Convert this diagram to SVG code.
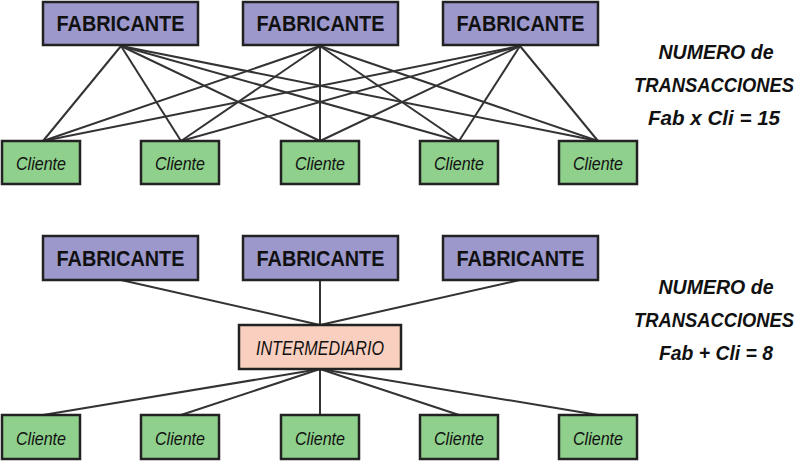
<svg xmlns="http://www.w3.org/2000/svg" width="800" height="461" viewBox="0 0 800 461">
<style>
.fab{fill:#9c98cc;stroke:#222;stroke-width:2.5}
.cli{fill:#8fd08c;stroke:#222;stroke-width:2.5}
.int{fill:#f9cfbf;stroke:#222;stroke-width:2.5}
.ft{font-family:"Liberation Sans",Arial,sans-serif;font-weight:bold;font-size:22px;fill:#111;text-anchor:middle}
.ct{font-family:"Liberation Sans",Arial,sans-serif;font-style:italic;font-size:19px;fill:#111;text-anchor:middle}
.nt{font-family:"Liberation Sans",Arial,sans-serif;font-style:italic;font-weight:bold;font-size:20px;fill:#111;text-anchor:middle}
#connectors line{stroke:#333;stroke-width:2}
</style>
<g id="connectors">
<line x1="121" y1="46" x2="43" y2="141"/><line x1="121" y1="46" x2="181" y2="141"/><line x1="121" y1="46" x2="320" y2="141"/><line x1="121" y1="46" x2="459" y2="141"/><line x1="121" y1="46" x2="598" y2="141"/>
<line x1="320" y1="46" x2="43" y2="141"/><line x1="320" y1="46" x2="181" y2="141"/><line x1="320" y1="46" x2="320" y2="141"/><line x1="320" y1="46" x2="459" y2="141"/><line x1="320" y1="46" x2="598" y2="141"/>
<line x1="520" y1="46" x2="43" y2="141"/><line x1="520" y1="46" x2="181" y2="141"/><line x1="520" y1="46" x2="320" y2="141"/><line x1="520" y1="46" x2="459" y2="141"/><line x1="520" y1="46" x2="598" y2="141"/>
<line x1="121" y1="280" x2="320" y2="325"/><line x1="320" y1="280" x2="320" y2="325"/><line x1="520" y1="280" x2="320" y2="325"/>
<line x1="320" y1="369" x2="43" y2="415"/><line x1="320" y1="369" x2="181" y2="415"/><line x1="320" y1="369" x2="320" y2="415"/><line x1="320" y1="369" x2="459" y2="415"/><line x1="320" y1="369" x2="598" y2="415"/>
</g>
<g id="fab1"><rect class="fab" x="43" y="2" width="155" height="43"/><text class="ft" x="120.5" y="31" textLength="128" lengthAdjust="spacingAndGlyphs">FABRICANTE</text></g>
<g id="fab2"><rect class="fab" x="243" y="2" width="155" height="43"/><text class="ft" x="320.5" y="31" textLength="128" lengthAdjust="spacingAndGlyphs">FABRICANTE</text></g>
<g id="fab3"><rect class="fab" x="443" y="2" width="155" height="43"/><text class="ft" x="520.5" y="31" textLength="128" lengthAdjust="spacingAndGlyphs">FABRICANTE</text></g>
<g id="cli1"><rect class="cli" x="2" y="141" width="78" height="43"/><text class="ct" x="41" y="170" textLength="50" lengthAdjust="spacingAndGlyphs">Cliente</text></g>
<g id="cli2"><rect class="cli" x="141" y="141" width="78" height="43"/><text class="ct" x="180" y="170" textLength="50" lengthAdjust="spacingAndGlyphs">Cliente</text></g>
<g id="cli3"><rect class="cli" x="281" y="141" width="78" height="43"/><text class="ct" x="320" y="170" textLength="50" lengthAdjust="spacingAndGlyphs">Cliente</text></g>
<g id="cli4"><rect class="cli" x="420" y="141" width="78" height="43"/><text class="ct" x="459" y="170" textLength="50" lengthAdjust="spacingAndGlyphs">Cliente</text></g>
<g id="cli5"><rect class="cli" x="559" y="141" width="78" height="43"/><text class="ct" x="598" y="170" textLength="50" lengthAdjust="spacingAndGlyphs">Cliente</text></g>
<text class="nt" x="716" y="59" textLength="115" lengthAdjust="spacingAndGlyphs">NUMERO de</text>
<text class="nt" x="714" y="92" textLength="160" lengthAdjust="spacingAndGlyphs">TRANSACCIONES</text>
<text class="nt" x="714" y="125" textLength="132" lengthAdjust="spacingAndGlyphs">Fab x Cli = 15</text>
<g id="fab4"><rect class="fab" x="43" y="236" width="155" height="44"/><text class="ft" x="120.5" y="266" textLength="128" lengthAdjust="spacingAndGlyphs">FABRICANTE</text></g>
<g id="fab5"><rect class="fab" x="243" y="236" width="155" height="44"/><text class="ft" x="320.5" y="266" textLength="128" lengthAdjust="spacingAndGlyphs">FABRICANTE</text></g>
<g id="fab6"><rect class="fab" x="443" y="236" width="155" height="44"/><text class="ft" x="520.5" y="266" textLength="128" lengthAdjust="spacingAndGlyphs">FABRICANTE</text></g>
<g id="inter"><rect class="int" x="239" y="325" width="162" height="44"/><text class="ct" x="320" y="355" style="font-size:21px" textLength="128" lengthAdjust="spacingAndGlyphs">INTERMEDIARIO</text></g>
<g id="cli6"><rect class="cli" x="2" y="415" width="78" height="44"/><text class="ct" x="41" y="445" textLength="50" lengthAdjust="spacingAndGlyphs">Cliente</text></g>
<g id="cli7"><rect class="cli" x="141" y="415" width="78" height="44"/><text class="ct" x="180" y="445" textLength="50" lengthAdjust="spacingAndGlyphs">Cliente</text></g>
<g id="cli8"><rect class="cli" x="281" y="415" width="78" height="44"/><text class="ct" x="320" y="445" textLength="50" lengthAdjust="spacingAndGlyphs">Cliente</text></g>
<g id="cli9"><rect class="cli" x="420" y="415" width="78" height="44"/><text class="ct" x="459" y="445" textLength="50" lengthAdjust="spacingAndGlyphs">Cliente</text></g>
<g id="cli10"><rect class="cli" x="559" y="415" width="78" height="44"/><text class="ct" x="598" y="445" textLength="50" lengthAdjust="spacingAndGlyphs">Cliente</text></g>
<text class="nt" x="716" y="294" textLength="115" lengthAdjust="spacingAndGlyphs">NUMERO de</text>
<text class="nt" x="714" y="327" textLength="160" lengthAdjust="spacingAndGlyphs">TRANSACCIONES</text>
<text class="nt" x="716" y="360" textLength="114" lengthAdjust="spacingAndGlyphs">Fab + Cli = 8</text>
</svg>
